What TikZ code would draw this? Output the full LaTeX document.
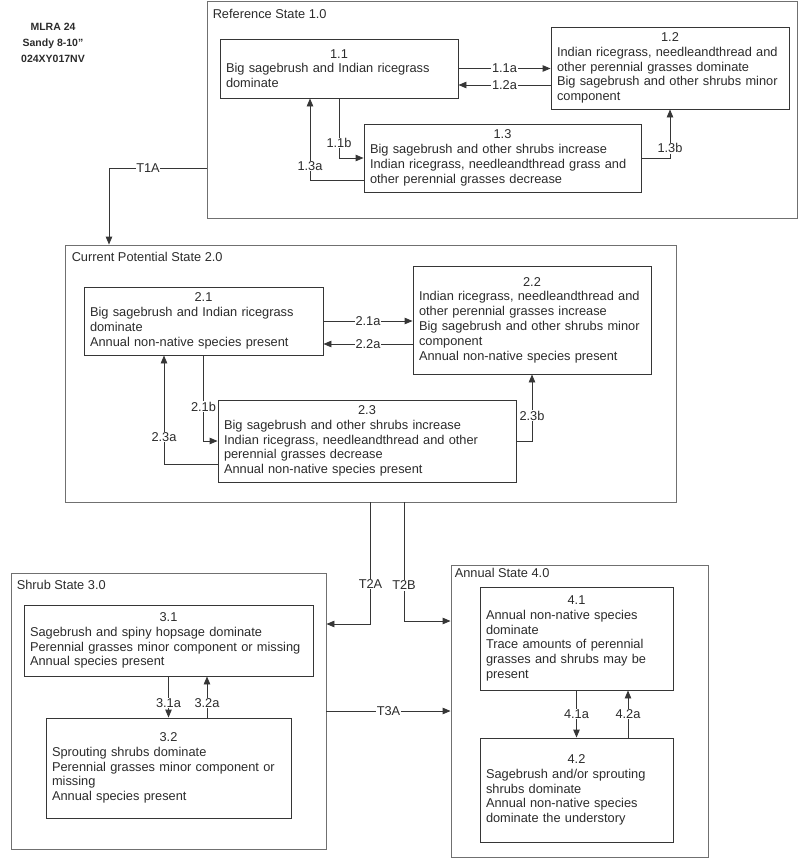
\documentclass[tikz,border=0pt]{standalone}
\usepackage{fontspec}
\setmainfont{Liberation Sans}
\usetikzlibrary{arrows.meta,calc}
\definecolor{ink}{HTML}{2B2B2B}
\definecolor{edgecol}{HTML}{363636}
\definecolor{framecol}{HTML}{707070}
\begin{document}
\begin{tikzpicture}[x=1pt,y=-1pt,
  every node/.style={text=ink},
  txt/.style={font=\fontsize{12.8}{14.8}\selectfont},
  statebox/.style={draw=framecol, line width=0.9pt, rectangle, inner sep=0pt},
  box/.style={draw=edgecol, line width=0.9pt, rectangle, inner sep=0pt, txt, align=left},
  arr/.style={draw=edgecol, line width=0.9pt, -{Triangle[length=8pt,width=6.5pt]}},
  lbl/.style={fill=white, inner sep=0.6pt, txt},
  ttl/.style={anchor=base west, inner sep=0pt, txt}]
\useasboundingbox (0,0) rectangle (800,859);

% header
\node[font=\fontsize{10.5}{16}\selectfont\bfseries, align=center, inner sep=0pt] (hdr) at (53,43) {MLRA 24\\Sandy 8-10"\\024XY017NV};

% State 1
\node[statebox, minimum width=590pt, minimum height=217pt] (S1) at (502,109.5) {};
\node[ttl] (t1) at ([xshift=6pt,yshift=-18pt]S1.north west) {Reference State 1.0};
\node[box, minimum width=238pt, minimum height=59pt, text width=226pt] (b11) at (339,68.5)
  {\hfill 1.1\hfill\null\\Big sagebrush and Indian ricegrass\\dominate};
\node[box, minimum width=238pt, minimum height=82pt, text width=226pt] (b12) at (670,68)
  {\hfill 1.2\hfill\null\\Indian ricegrass, needleandthread and\\other perennial grasses dominate\\Big sagebrush and other shrubs minor\\component};
\node[box, minimum width=277pt, minimum height=68pt, text width=265pt] (b13) at (502.5,158)
  {\hfill 1.3\hfill\null\\Big sagebrush and other shrubs increase\\Indian ricegrass, needleandthread grass and\\other perennial grasses decrease};

\draw[arr] (b11.east) -- (b11.east -| b12.west) node[lbl,midway]{1.1a};
\draw[arr] ([yshift=-17pt]b12.west) -- ([yshift=-17pt]b12.west -| b11.east) node[lbl,midway]{1.2a};
\draw[arr] (b11.south) |- (b13.west) node[lbl,pos=0.375]{1.1b};
\draw[arr] ([yshift=-22pt]b13.west) -| ([xshift=-29pt]b11.south) node[lbl,pos=0.585]{1.3a};
\draw[arr] (b13.east) -| (b12.south) node[lbl,pos=0.6]{1.3b};

% State 2
\node[statebox, minimum width=611pt, minimum height=257pt] (S2) at (370.5,373.5) {};
\node[ttl] (t2) at ([xshift=7pt,yshift=-17pt]S2.north west) {Current Potential State 2.0};
\node[box, minimum width=239pt, minimum height=68pt, text width=227pt] (b21) at (203.5,321)
  {\hfill 2.1\hfill\null\\Big sagebrush and Indian ricegrass\\dominate\\Annual non-native species present};
\node[box, minimum width=238pt, minimum height=108pt, text width=226pt] (b22) at (532,320)
  {\hfill 2.2\hfill\null\\Indian ricegrass, needleandthread and\\other perennial grasses increase\\Big sagebrush and other shrubs minor\\component\\Annual non-native species present};
\node[box, minimum width=298pt, minimum height=82pt, text width=286pt] (b23) at (367,441)
  {\hfill 2.3\hfill\null\\Big sagebrush and other shrubs increase\\Indian ricegrass, needleandthread and other\\perennial grasses decrease\\Annual non-native species present};

\draw[arr] (b21.east) -- (b21.east -| b22.west) node[lbl,midway]{2.1a};
\draw[arr] ([yshift=-24pt]b22.west) -- ([yshift=-24pt]b22.west -| b21.east) node[lbl,midway]{2.2a};
\draw[arr] (b21.south) |- (b23.west) node[lbl,pos=0.3]{2.1b};
\draw[arr] ([yshift=-23pt]b23.west) -| ([xshift=-39.5pt]b21.south) node[lbl,pos=0.625]{2.3a};
\draw[arr] (b23.east) -| (b22.south) node[lbl,pos=0.69]{2.3b};

% transition T1A
\draw[arr] ([yshift=-58.5pt]S1.west) -| ([xshift=-261.5pt]S2.north) node[lbl,pos=0.3]{T1A};

% State 3
\node[statebox, minimum width=315pt, minimum height=276pt] (S3) at (168.5,711) {};
\node[ttl] (t3) at ([xshift=6pt,yshift=-17pt]S3.north west) {Shrub State 3.0};
\node[box, minimum width=289pt, minimum height=71pt, text width=277pt] (b31) at (168.5,640.5)
  {\hfill 3.1\hfill\null\\Sagebrush and spiny hopsage dominate\\Perennial grasses minor component or missing\\Annual species present};
\node[box, minimum width=245pt, minimum height=100pt, text width=233pt] (b32) at (168.5,768)
  {\hfill 3.2\hfill\null\\Sprouting shrubs dominate\\Perennial grasses minor component or\\missing\\Annual species present};
\draw[arr] (b31.south) -- (b32.north) node[lbl,pos=0.64]{3.1a};
\draw[arr] ([xshift=38.5pt]b32.north) -- ([xshift=38.5pt]b32.north |- b31.south) node[lbl,pos=0.36]{3.2a};

% State 4
\node[statebox, minimum width=257pt, minimum height=292pt] (S4) at (579.5,711) {};
\node[ttl] (t4) at ([xshift=4pt,yshift=-13pt]S4.north west) {Annual State 4.0};
\node[box, minimum width=193pt, minimum height=103pt, text width=181pt] (b41) at (576.5,638.5)
  {\hfill 4.1\hfill\null\\Annual non-native species\\dominate\\Trace amounts of perennial\\grasses and shrubs may be\\present};
\node[box, minimum width=193pt, minimum height=104pt, text width=181pt] (b42) at (576.5,790)
  {\hfill 4.2\hfill\null\\Sagebrush and/or sprouting\\shrubs dominate\\Annual non-native species\\dominate the understory};
\draw[arr] (b41.south) -- (b42.north) node[lbl,midway]{4.1a};
\draw[arr] ([xshift=51.5pt]b42.north) -- ([xshift=51.5pt]b42.north |- b41.south) node[lbl,midway]{4.2a};

% transitions between states
\draw[arr] (S2.south) |- ([yshift=87pt]S3.east) node[lbl,pos=0.336]{T2A};
\draw[arr] ([xshift=33.5pt]S2.south) |- ([yshift=90pt]S4.west) node[lbl,pos=0.35]{T2B};
\draw[arr] (S3.east) -- (S4.west) node[lbl,midway]{T3A};
\end{tikzpicture}
\end{document}
